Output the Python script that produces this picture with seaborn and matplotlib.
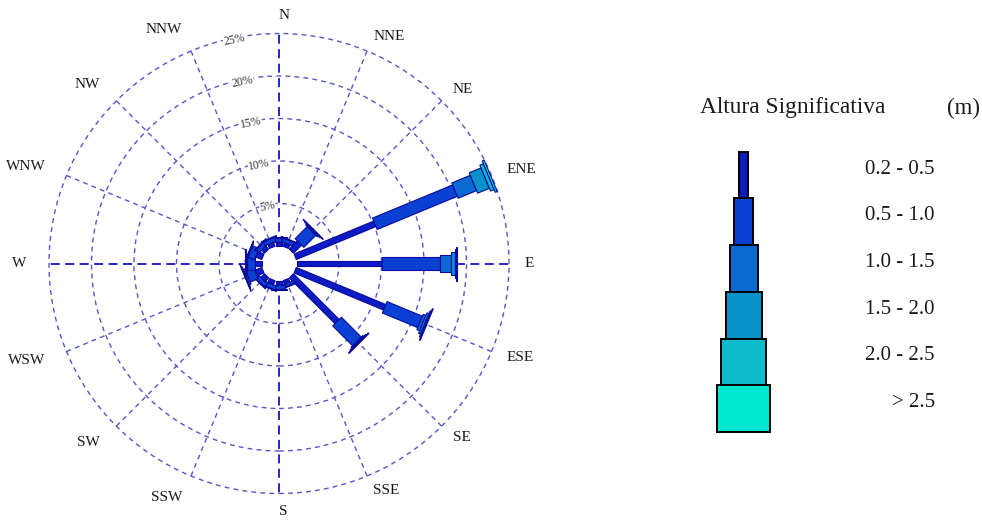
import numpy as np
import matplotlib
matplotlib.use("Agg")
import matplotlib.pyplot as plt
from matplotlib.transforms import Affine2D
from matplotlib.patches import Circle
import seaborn as sns

# ---------------------------------------------------------------- data
directions = ["N", "NNE", "NE", "ENE", "E", "ESE", "SE", "SSE",
              "S", "SSW", "SW", "WSW", "W", "WNW", "NW", "NNW"]
compass_deg = [0.0, 22.5, 45.0, 67.5, 90.0, 112.5, 135.0, 157.5,
               180.0, 202.5, 225.0, 247.5, 270.0, 292.5, 315.0, 337.5]

height_classes = ["0.2 - 0.5", "0.5 - 1.0", "1.0 - 1.5",
                  "1.5 - 2.0", "2.0 - 2.5", "> 2.5"]

# frequency (%) per direction for each significant-height class
freq_02_05 = [0.50, 0.45, 1.35, 10.15, 10.00, 11.40, 7.60, 0.45,
              0.50, 0.50, 0.60, 0.90, 0.75, 0.80, 0.50, 0.50]
freq_05_10 = [0.50, 0.45, 2.00, 10.20, 6.90, 4.50, 3.30, 0.35,
              0.45, 0.50, 0.50, 1.00, 0.95, 0.80, 0.50, 0.50]
freq_10_15 = [0.10, 0.10, 0.15, 2.35, 1.25, 0.35, 0.15, 0.08,
              0.10, 0.10, 0.10, 0.20, 0.10, 0.10, 0.10, 0.10]
freq_15_20 = [0.00, 0.00, 0.10, 1.50, 0.50, 0.25, 0.10, 0.00,
              0.00, 0.00, 0.00, 0.10, 0.05, 0.05, 0.00, 0.00]
freq_20_25 = [0.00, 0.00, 0.05, 0.45, 0.17, 0.15, 0.10, 0.00,
              0.00, 0.00, 0.00, 0.05, 0.05, 0.00, 0.00, 0.00]
freq_gt_25 = [0.00, 0.00, 0.00, 0.25, 0.10, 0.10, 0.00, 0.00,
              0.00, 0.00, 0.00, 0.00, 0.00, 0.00, 0.00, 0.00]

ring_levels = [5, 10, 15, 20, 25]

# ---------------------------------------------------------------- style
class_colors = ["#0c1cc4", "#0a40d4", "#0a6ad2", "#0892c8", "#0cbccc", "#00e8d0"]
rose_bar_widths = [0.70, 1.45, 1.95, 2.60, 3.30, 4.00]   # in % units
legend_bar_widths = [9, 19, 28, 36, 45, 53]              # in pixels
bar_edge = "#0a0a9c"
grid_color = "#5555cc"
axis_color = "#1414c8"
text_color = "#1a1a1a"

sns.set_style("white")
plt.rcParams["font.family"] = ["Liberation Serif", "DejaVu Serif"]

W, H = 982, 522
fig = plt.figure(figsize=(W / 100, H / 100), dpi=100)

# ---------------------------------------------------------------- rose
px_per_pct = 8.5
hole = 17.5 / px_per_pct
cx, cy = 279.0, 263.5
half = 30.0
ax = fig.add_axes([(cx - half * px_per_pct) / W,
                   (H - cy - half * px_per_pct) / H,
                   2 * half * px_per_pct / W,
                   2 * half * px_per_pct / H])
ax.set_facecolor("none")

outer = hole + ring_levels[-1]
for lvl in ring_levels:
    ax.add_patch(Circle((0, 0), hole + lvl, fill=False, edgecolor=grid_color,
                        linewidth=1.0, linestyle=(0, (3.5, 3)), zorder=1))

for comp in compass_deg:
    th = np.deg2rad(90 - comp)
    cardinal = comp % 90 == 0
    ax.plot([hole * np.cos(th), outer * np.cos(th)],
            [hole * np.sin(th), outer * np.sin(th)],
            color=axis_color if cardinal else grid_color,
            linewidth=1.3 if cardinal else 1.0,
            linestyle=(0, (5, 3)) if cardinal else (0, (3.5, 3)), zorder=1)

freqs = np.array([freq_02_05, freq_05_10, freq_10_15,
                  freq_15_20, freq_20_25, freq_gt_25])
widths = np.array(rose_bar_widths)
colors = np.array(class_colors)
for i, comp in enumerate(compass_deg):
    vals = freqs[:, i]
    lefts = hole + np.concatenate([[0.0], np.cumsum(vals)[:-1]])
    keep = vals > 0
    tr = Affine2D().rotate_deg(90 - comp) + ax.transData
    ax.barh(np.zeros(keep.sum()), vals[keep], left=lefts[keep],
            height=widths[keep], color=list(colors[keep]),
            edgecolor=bar_edge, linewidth=0.8, transform=tr, zorder=3)

# ring percentage labels along the north-north-west side
lab_ang = 11.3
for lvl in ring_levels:
    th = np.deg2rad(90 + lab_ang)
    r = hole + lvl - 0.25
    ax.text(r * np.cos(th), r * np.sin(th), f"{lvl}%", fontsize=8.5,
            color="#333333", rotation=lab_ang, ha="center", va="center",
            rotation_mode="anchor", zorder=2,
            bbox=dict(facecolor="white", edgecolor="none", pad=0.3))

# direction labels
for name, comp in zip(directions, compass_deg):
    th = np.deg2rad(90 - comp)
    s = np.sin(np.deg2rad(comp))
    if abs(s) < 1e-6:
        r_px, ha = 248, "left"
    elif s > 0:
        r_px, ha = 246, "left"
    else:
        r_px, ha = 253, "right"
    r = r_px / px_per_pct
    ax.text(r * np.cos(th), r * np.sin(th), name, fontsize=11,
            color=text_color, ha=ha, va="center")

ax.set_xlim(-half, half)
ax.set_ylim(-half, half)
ax.set_aspect("equal")
ax.axis("off")

# ---------------------------------------------------------------- legend
lax = fig.add_axes([0, 0, 1, 1])
lax.set_facecolor("none")
lax.set_xlim(0, W)
lax.set_ylim(H, 0)
lax.axis("off")

seg_h = 46.7
tops = [151.7 + k * seg_h for k in range(len(height_classes))]
lax.bar([744] * len(tops), [seg_h] * len(tops), width=legend_bar_widths,
        bottom=tops, color=class_colors, edgecolor="black", linewidth=1.4)
for label, top in zip(height_classes, tops):
    lax.text(935, top + seg_h / 2 - 6, label, ha="right", va="center",
             fontsize=15, color=text_color)

lax.text(700, 108, "Altura Significativa", ha="left", va="center",
         fontsize=16.8, color=text_color)
lax.text(980, 108, "(m)", ha="right", va="center", fontsize=16.5,
         color=text_color)

fig.savefig("out.png", dpi=100)
